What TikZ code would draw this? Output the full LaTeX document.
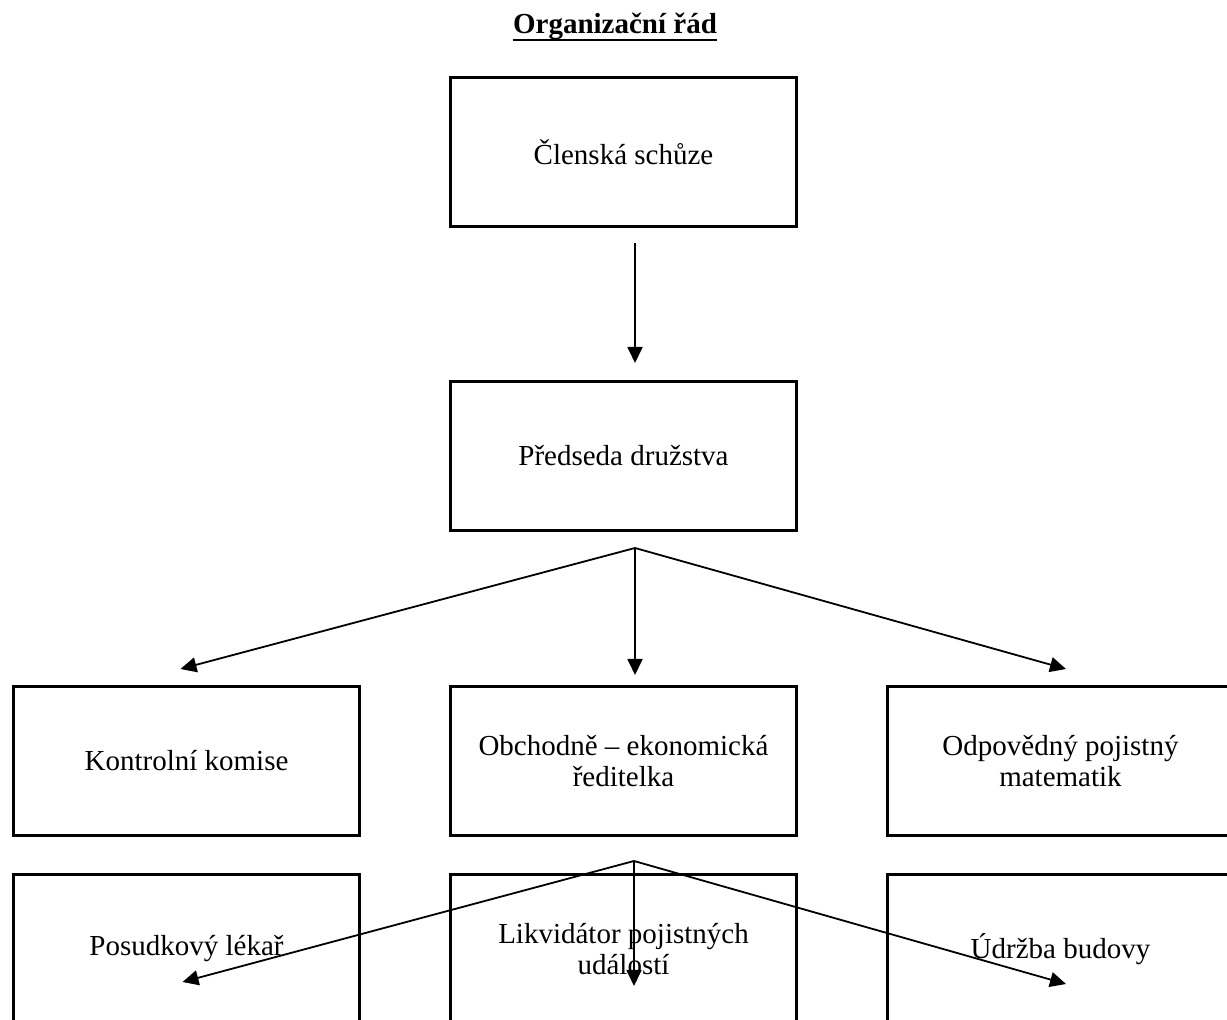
\documentclass[tikz,border=0pt]{standalone}
\usepackage{fontspec}
\setmainfont{Liberation Serif}
\usepackage{tikz}
\usetikzlibrary{positioning,calc,arrows.meta}

\begin{document}
\begin{tikzpicture}[x=0.5pt, y=-0.5pt, >={Triangle[length=8pt,width=7.5pt]},
	every node/.style={font=\fontsize{14.5pt}{15.5pt}\selectfont},
	box/.style={rectangle, draw, line width=1.3pt, minimum width=173.2pt, minimum height=74.7pt, align=center},
	spoj/.style={->, line width=0.9pt}]
	\useasboundingbox (0,0) rectangle (1227,1020);
	\clip (0,0) rectangle (1227,1020);

	\node[anchor=base, inner sep=0pt] (nazev) at (615,34) {\bfseries Organizační řád};
	\draw[line width=0.9pt] ($(nazev.base west)+(0,6)$) -- ($(nazev.base east)+(0,6)$);

	\node[box] (schuze) at (623.5,152)                           {Členská schůze};
	\node[box] (predseda) [below=76pt of schuze]                 {Předseda družstva};
	\node[box] (obchod) [below=76.5pt of predseda]               {Obchodně – ekonomická\\ředitelka};
	\node[box] (kontrola) [left=44pt of obchod]                  {Kontrolní komise};
	\node[box] (matematik) [right=44pt of obchod]                {Odpovědný pojistný\\matematik};
	\node[box] (likvidator) [below=18pt of obchod]               {Likvidátor pojistných\\událostí};
	\node[box] (lekar) [left=44pt of likvidator]                 {Posudkový lékař};
	\node[box] (udrzba) [right=44pt of likvidator]               {Údržba budovy};

	\coordinate (vidle1) at ($(predseda.south)+(11.5,16)$);
	\coordinate (vidle2) at ($(obchod.south)+(10.5,24)$);

	\draw[spoj] ($(schuze.south)+(11.5,15)$) -- ($(predseda.north)+(11.5,-17)$);
	\draw[spoj] (vidle1) -- ($(kontrola.north)+(-6,-16)$);
	\draw[spoj] (vidle1) -- ($(obchod.north)+(11.5,-10)$);
	\draw[spoj] (vidle1) -- ($(matematik.north)+(5.5,-16)$);
	\draw[spoj] (vidle2) -- ($(lekar.center)+(-4,33)$);
	\draw[spoj] (vidle2) -- ($(likvidator.center)+(10.5,37)$);
	\draw[spoj] (vidle2) -- ($(udrzba.center)+(5.5,35)$);
\end{tikzpicture}
\end{document}
